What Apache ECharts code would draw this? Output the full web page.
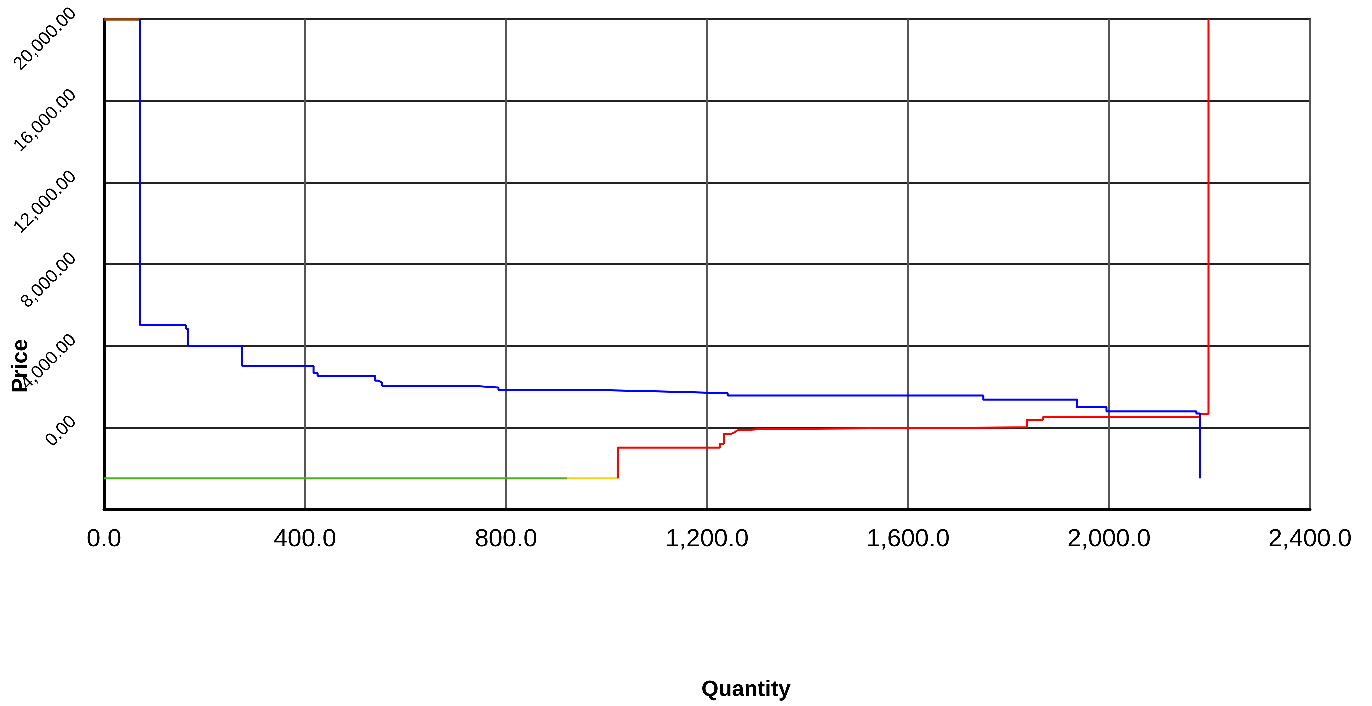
<!DOCTYPE html>
<html>
<head>
<meta charset="utf-8">
<script src="https://cdn.jsdelivr.net/npm/echarts@6/dist/echarts.min.js"></script>
<style>
html,body{margin:0;padding:0;background:#fff;}
#c{width:1372px;height:706px;}
</style>
</head>
<body>
<div id="c"></div>
<script>
// Demand (blue) step points [quantity, price]; price holds until next quantity
const demandQty   = [72, 72, 163, 167, 275, 417, 425, 539, 546, 553, 730, 785, 980, 1126, 1241, 1750, 1936, 1995, 2174, 2181];
const demandPrice = [20000, 5000, 4830, 4000, 3000, 2660, 2530, 2290, 2200, 2040, 1950, 1830, 1750, 1670, 1560, 1360, 990, 780, 680, -2500];

// Supply (red) step points
const supplyQty   = [1023, 1023, 1226, 1234, 1249, 1256, 1260, 1312, 1837, 1868, 2181, 2198];
const supplyPrice = [-2500, -990, -800, -310, -230, -150, -80, 0, 375, 490, 670, 20000];

// Other short segments
const brownQty = [0, 72];       const brownPrice = [20000, 20000];
const greenQty = [0, 921];      const greenPrice = [-2500, -2500];
const yellowQty = [921, 1023];  const yellowPrice = [-2500, -2500];

// Axis settings
const xTicks = [0, 400, 800, 1200, 1600, 2000, 2400];
const yTicks = [-4000, 0, 4000, 8000, 12000, 16000, 20000];

const pts = (q, p) => q.map((v, i) => [v, p[i]]);
const fmt = (v, d) => Number(v).toLocaleString('en-US', {minimumFractionDigits: d, maximumFractionDigits: d});
const FONT = 'Liberation Sans, Arial, sans-serif';

const chart = echarts.init(document.getElementById('c'), null, {devicePixelRatio: 3});
const lineSeries = (name, data, color, width) => ({
  name, type: 'line', step: 'end', data, symbol: 'none',
  lineStyle: {color, width: width || 2}, itemStyle: {color}, animation: false, z: 5
});

chart.setOption({
  animation: false,
  backgroundColor: '#fff',
  grid: {left: 104, right: 62, top: 16, bottom: 197, show: true, borderColor: '#333', borderWidth: 2},
  xAxis: {
    type: 'value', min: xTicks[0], max: xTicks[xTicks.length - 1], interval: 400,
    axisLine: {show: true, onZero: false, lineStyle: {color: '#000', width: 3}},
    axisTick: {show: false},
    splitLine: {show: true, lineStyle: {color: '#555', width: 2}},
    axisLabel: {color: '#000', fontSize: 25, fontFamily: FONT, margin: 18,
      formatter: v => fmt(v, 1)}
  },
  yAxis: {
    type: 'value', min: yTicks[0], max: yTicks[yTicks.length - 1], interval: 4000,
    axisLine: {show: true, onZero: false, lineStyle: {color: '#000', width: 3}},
    axisTick: {show: false},
    splitLine: {show: true, lineStyle: {color: '#222', width: 2}},
    axisLabel: {color: '#000', fontSize: 18, fontFamily: FONT, rotate: 45, margin: 22,
      lineHeight: 24, verticalAlign: 'bottom',
      formatter: v => v === yTicks[0] ? '' : fmt(v, 2)}
  },
  graphic: [
    {type: 'text', x: 21, y: 366, rotation: Math.PI / 2,
      style: {text: 'Price', font: 'bold 22px ' + FONT, fill: '#000', align: 'center', verticalAlign: 'middle', textAlign: 'center', textVerticalAlign: 'middle'}},
    {type: 'text', x: 746, y: 690,
      style: {text: 'Quantity', font: 'bold 22px ' + FONT, fill: '#000', align: 'center', verticalAlign: 'middle', textAlign: 'center', textVerticalAlign: 'middle'}}
  ],
  series: [
    lineSeries('Brown', pts(brownQty, brownPrice), '#8B4513', 3),
    lineSeries('Green', pts(greenQty, greenPrice), '#52AE24'),
    lineSeries('Yellow', pts(yellowQty, yellowPrice), '#F0D41A'),
    lineSeries('Supply', pts(supplyQty, supplyPrice), '#FF0000'),
    lineSeries('Demand', pts(demandQty, demandPrice), '#0000FF')
  ]
});
</script>
</body>
</html>
